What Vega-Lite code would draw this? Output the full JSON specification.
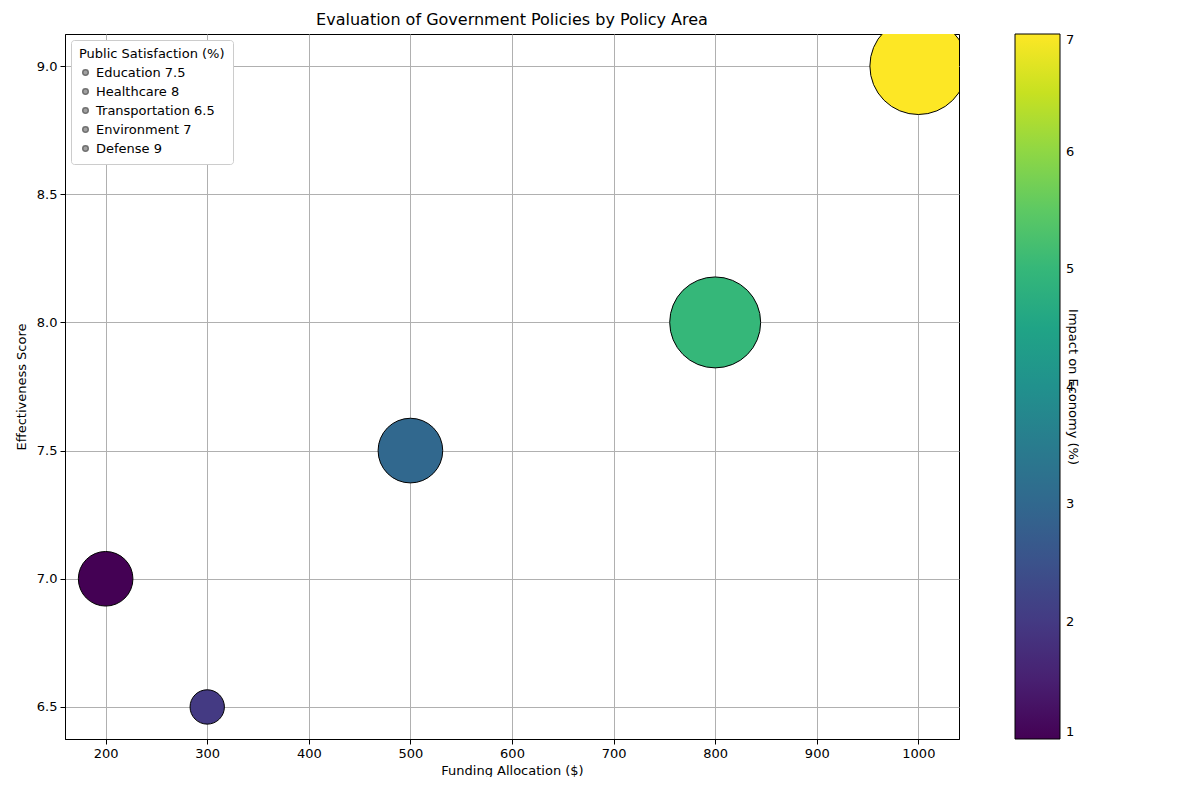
{
  "$schema": "https://vega.github.io/schema/vega-lite/v6.json",
  "width": 894,
  "height": 705,
  "padding": {"left": 15, "top": 12, "right": 0, "bottom": 0},
  "background": "white",
  "title": {"text": "Evaluation of Government Policies by Policy Area", "fontSize": 16, "font": "DejaVu Sans", "fontWeight": "normal", "color": "black", "offset": 6},
  "config": {
    "font": "DejaVu Sans",
    "view": {"stroke": "black", "strokeWidth": 1},
    "axis": {"grid": true, "gridColor": "#b0b0b0", "gridWidth": 1, "domainColor": "black", "tickColor": "black", "labelColor": "black", "titleColor": "black", "labelFontSize": 13, "titleFontSize": 13, "titleFontWeight": "normal", "tickSize": 5, "labelPadding": 3}
  },
  "data": {"values": [
    {"policy": "Education", "label": "Education 7.5", "funding": 500, "effectiveness": 7.5, "impact": 3, "size": 4180},
    {"policy": "Healthcare", "label": "Healthcare 8", "funding": 800, "effectiveness": 8.0, "impact": 5, "size": 8270},
    {"policy": "Transportation", "label": "Transportation 6.5", "funding": 300, "effectiveness": 6.5, "impact": 2, "size": 1180},
    {"policy": "Environment", "label": "Environment 7", "funding": 200, "effectiveness": 7.0, "impact": 1, "size": 2980},
    {"policy": "Defense", "label": "Defense 9", "funding": 1000, "effectiveness": 9.0, "impact": 7, "size": 9400}
  ]},
  "mark": {"type": "point", "filled": true, "clip": true, "stroke": "black", "strokeWidth": 1, "opacity": 1},
  "encoding": {
    "x": {"field": "funding", "type": "quantitative", "title": "Funding Allocation ($)", "scale": {"domain": [160, 1040], "nice": false, "zero": false}, "axis": {"values": [200, 300, 400, 500, 600, 700, 800, 900, 1000], "format": "d"}},
    "y": {"field": "effectiveness", "type": "quantitative", "title": "Effectiveness Score", "scale": {"domain": [6.375, 9.125], "nice": false, "zero": false}, "axis": {"values": [6.5, 7.0, 7.5, 8.0, 8.5, 9.0], "format": ".1f", "titlePadding": 8}},
    "size": {"field": "size", "type": "quantitative", "scale": null, "legend": null},
    "stroke": {"value": "black"},
    "color": {"field": "impact", "type": "quantitative", "scale": {"scheme": "viridis", "domain": [1, 7]},
      "legend": {"title": "Impact on Economy (%)", "orient": "none", "legendX": 950, "legendY": 0, "direction": "vertical", "gradientLength": 705, "gradientThickness": 45, "gradientStrokeColor": "black", "gradientStrokeWidth": 1, "values": [1, 2, 3, 4, 5, 6, 7], "format": "d", "labelFontSize": 13, "titleFontSize": 13, "titleFontWeight": "normal", "titleOrient": "right", "titleAngle": 270, "titleAnchor": "middle", "titleBaseline": "top", "labelColor": "black", "titleColor": "black", "labelOffset": 6}},
    "shape": {"field": "label", "type": "nominal", "scale": {"domain": ["Education 7.5", "Healthcare 8", "Transportation 6.5", "Environment 7", "Defense 9"], "range": ["circle", "circle", "circle", "circle", "circle"]},
      "legend": {"title": "Public Satisfaction (%)", "orient": "none", "legendX": 6, "legendY": 6, "symbolFillColor": "#a0a0a0", "symbolStrokeColor": "#707070", "symbolSize": 30, "symbolOpacity": 1, "labelFontSize": 13, "titleFontSize": 13, "titleFontWeight": "normal", "fillColor": "white", "strokeColor": "#cccccc", "padding": 8, "cornerRadius": 3, "rowPadding": 5, "labelColor": "black", "titleColor": "black"}}
  }
}
